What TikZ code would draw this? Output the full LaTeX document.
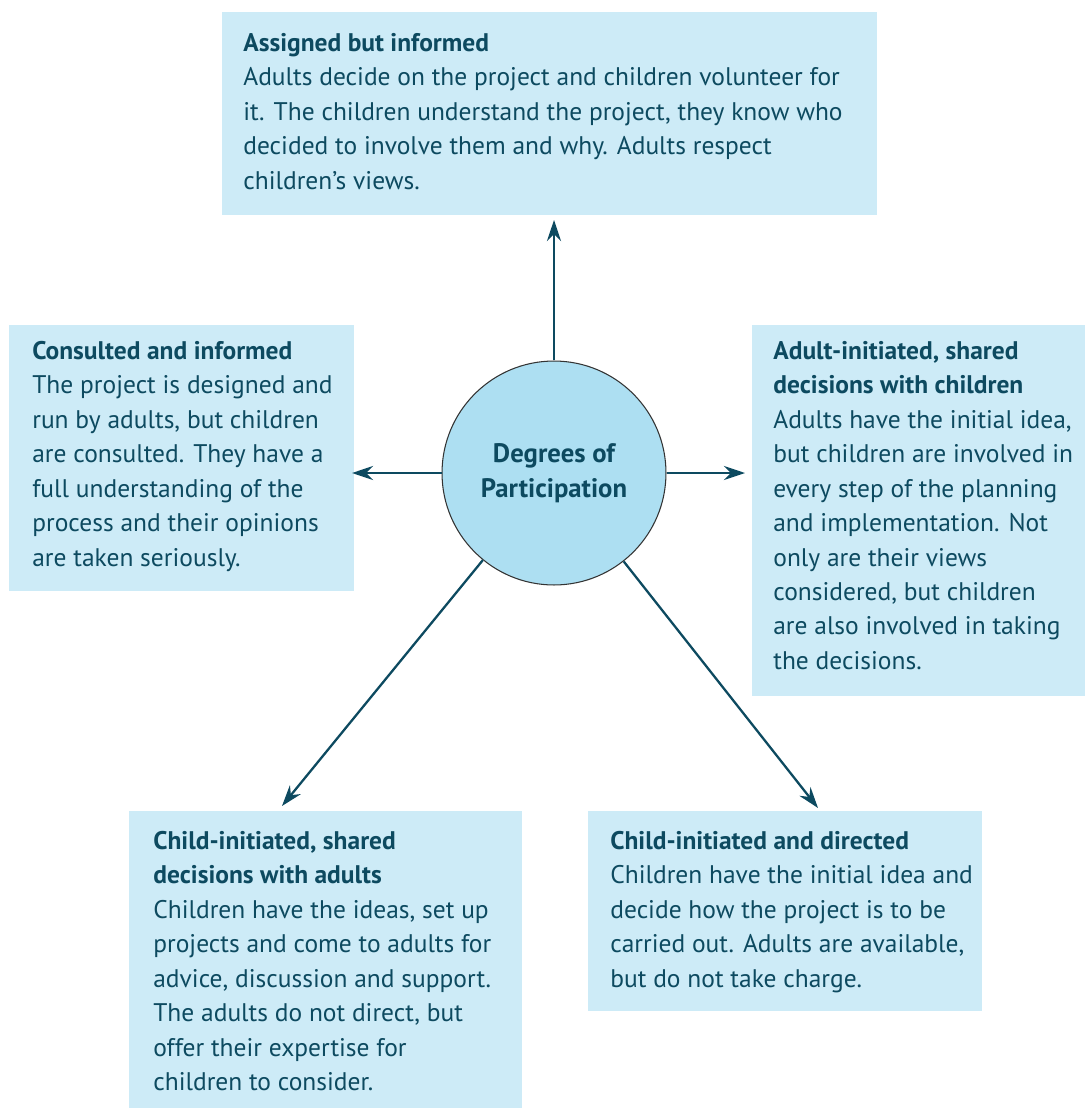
\documentclass[tikz,border=0pt]{standalone}
\usepackage{fontspec}
\setmainfont{PT Sans}
\usetikzlibrary{arrows.meta,positioning}
\definecolor{boxblue}{HTML}{CDEBF7}
\definecolor{hubblue}{HTML}{ADDFF2}
\definecolor{inkteal}{HTML}{0D4A60}
\tikzset{
  panel/.style={fill=boxblue, inner sep=0pt, anchor=north west},
  blurb/.style={anchor=north west, align=left, inner sep=0pt, text=inkteal,
    font=\fontsize{14.5}{19.6}\selectfont},
  hubnode/.style={circle, draw=black!80, line width=0.6pt, fill=hubblue, minimum size=4.48cm,
    inner sep=0pt, align=center, text=inkteal, font=\fontsize{15.2}{19.6}\selectfont\bfseries},
  link/.style={draw=inkteal, line width=1.3pt, -{Stealth[length=12pt, width=8pt, inset=4pt]}}
}

\begin{document}
\begin{tikzpicture}[x=0.02cm, y=-0.02cm]
\useasboundingbox (0,0) rectangle (1085,1108);
% panels
\node[panel, minimum width=13.1cm, minimum height=4.06cm] (assigned) at (222,12) {};
\node[panel, minimum width=6.9cm, minimum height=5.32cm] (consulted) at (9,325) {};
\node[panel, minimum width=6.66cm, minimum height=7.42cm] (adultinit) at (752,325) {};
\node[panel, minimum width=7.86cm, minimum height=5.94cm] (childshared) at (129,811) {};
\node[panel, minimum width=7.88cm, minimum height=4.0cm] (childdirected) at (588,811) {};

% texts
\node[blurb] (assignedtxt) at ([shift={(21,21)}]assigned.north west) {\textbf{Assigned but informed}\\
Adults decide on the project and children volunteer for\\
it. The children understand the project, they know who\\
decided to involve them and why. Adults respect\\
children’s views.};
\node[blurb] (consultedtxt) at ([shift={(23,16)}]consulted.north west) {\textbf{Consulted and informed}\\
The project is designed and\\
run by adults, but children\\
are consulted. They have a\\
full understanding of the\\
process and their opinions\\
are taken seriously.};
\node[blurb] (adultinittxt) at ([shift={(21,16)}]adultinit.north west) {\textbf{Adult-initiated, shared}\\
\textbf{decisions with children}\\
Adults have the initial idea,\\
but children are involved in\\
every step of the planning\\
and implementation. Not\\
only are their views\\
considered, but children\\
are also involved in taking\\
the decisions.};
\node[blurb] (childsharedtxt) at ([shift={(24,20)}]childshared.north west) {\textbf{Child-initiated, shared}\\
\textbf{decisions with adults}\\
Children have the ideas, set up\\
projects and come to adults for\\
advice, discussion and support.\\
The adults do not direct, but\\
offer their expertise for\\
children to consider.};
\node[blurb] (childdirectedtxt) at ([shift={(22,20)}]childdirected.north west) {\textbf{Child-initiated and directed}\\
Children have the initial idea and\\
decide how the project is to be\\
carried out. Adults are available,\\
but do not take charge.};

% hub
\node[hubnode] (hub) at (554,473) {Degrees of\\Participation};

% arrows
\coordinate (tipup) at (554,220);
\coordinate (tipleft) at (352,473);
\coordinate (tipright) at (745,473);
\coordinate (tipsw) at (282,806);
\coordinate (tipse) at (818,808);
\draw[link] (hub) -- (tipup);
\draw[link] (hub) -- (tipleft);
\draw[link] (hub) -- (tipright);
\draw[link] (hub) -- (tipsw);
\draw[link] (hub) -- (tipse);
\end{tikzpicture}
\end{document}
